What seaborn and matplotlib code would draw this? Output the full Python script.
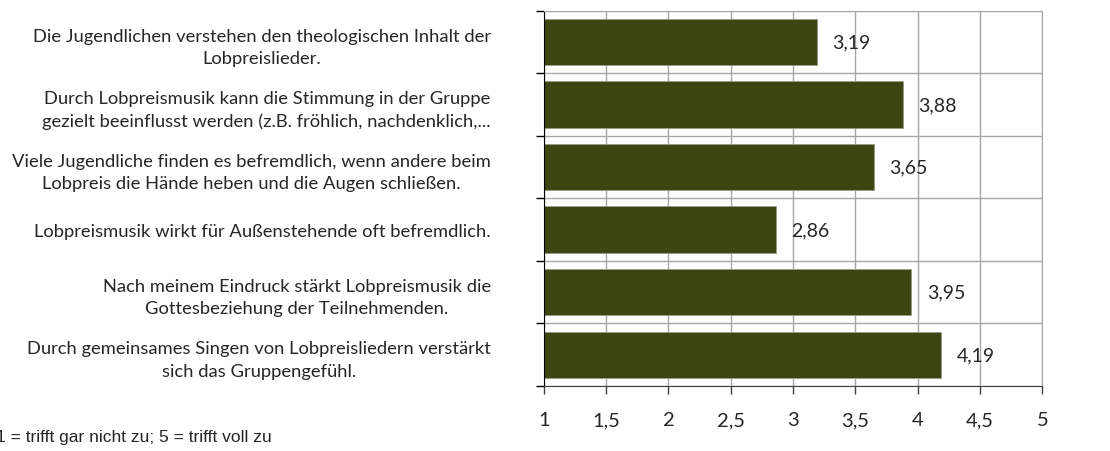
import pandas as pd
import seaborn as sns
import matplotlib.pyplot as plt
from matplotlib.ticker import FuncFormatter

# Daten (von oben nach unten wie im Original)
aussagen = [
    'Die Jugendlichen verstehen den theologischen Inhalt der\nLobpreislieder.',
    'Durch Lobpreismusik kann die Stimmung in der Gruppe\ngezielt beeinflusst werden (z.B. fröhlich, nachdenklich,...',
    'Viele Jugendliche finden es befremdlich, wenn andere beim\nLobpreis die Hände heben und die Augen schließen.',
    'Lobpreismusik wirkt für Außenstehende oft befremdlich.',
    'Nach meinem Eindruck stärkt Lobpreismusik die\nGottesbeziehung der Teilnehmenden.',
    'Durch gemeinsames Singen von Lobpreisliedern verstärkt\nsich das Gruppengefühl.',
]
mittelwerte = [3.19, 3.88, 3.65, 2.86, 3.95, 4.19]
x_ticks = [1, 1.5, 2, 2.5, 3, 3.5, 4, 4.5, 5]
fussnote = '1 = trifft gar nicht zu; 5 = trifft voll zu'

df = pd.DataFrame({'aussage': aussagen, 'wert': mittelwerte})

sns.set_style('white')
plt.rcParams['font.family'] = ['Lato', 'DejaVu Sans']

fig = plt.figure(figsize=(11.1, 4.52), dpi=100)
ax = fig.add_axes([0.490, 0.144, 0.449, 0.830])

sns.barplot(data=df, x='wert', y='aussage', orient='h', color='#3d4612',
            saturation=1, width=0.74, edgecolor='#9a9a86', linewidth=0.6, ax=ax)

ax.set_xlim(1, 5)
ax.set_ylim(len(aussagen) - 0.5, -0.5)
ax.set_xlabel('')
ax.set_ylabel('')

# x-Achse mit Dezimalkomma
ax.set_xticks(x_ticks)
ax.xaxis.set_major_formatter(FuncFormatter(lambda v, p: f'{v:g}'.replace('.', ',')))
ax.tick_params(axis='x', direction='out', length=6, width=1, color='#404040',
               labelsize=14.5, pad=12, bottom=True)

# y-Achse: Striche an den Kategoriegrenzen, Beschriftung in der Mitte
ax.set_yticks([i - 0.5 for i in range(len(aussagen) + 1)])
ax.set_yticklabels([])
ax.set_yticks(range(len(aussagen)), minor=True)
ax.set_yticklabels(aussagen, minor=True, fontsize=13.2, multialignment='center',
                   linespacing=1.5)
ax.tick_params(axis='y', which='major', direction='out', length=6, width=1,
               color='black', left=True)
ax.tick_params(axis='y', which='minor', length=0, pad=38)

ax.grid(True, which='major', color='#a6a6a6', linewidth=1)
ax.set_axisbelow(True)
for s in ['top', 'right']:
    ax.spines[s].set_color('#a6a6a6')
ax.spines['left'].set_color('black')
ax.spines['bottom'].set_color('#404040')

# Werte neben den Balken
for c in ax.containers:
    ax.bar_label(c, fmt=lambda v: f'{v:.2f}'.replace('.', ','), padding=11,
                 fontsize=14)

fig.text(-0.004, 0.022, fussnote, fontsize=12.5, family='Liberation Sans')

fig.savefig('out.png', dpi=100)
